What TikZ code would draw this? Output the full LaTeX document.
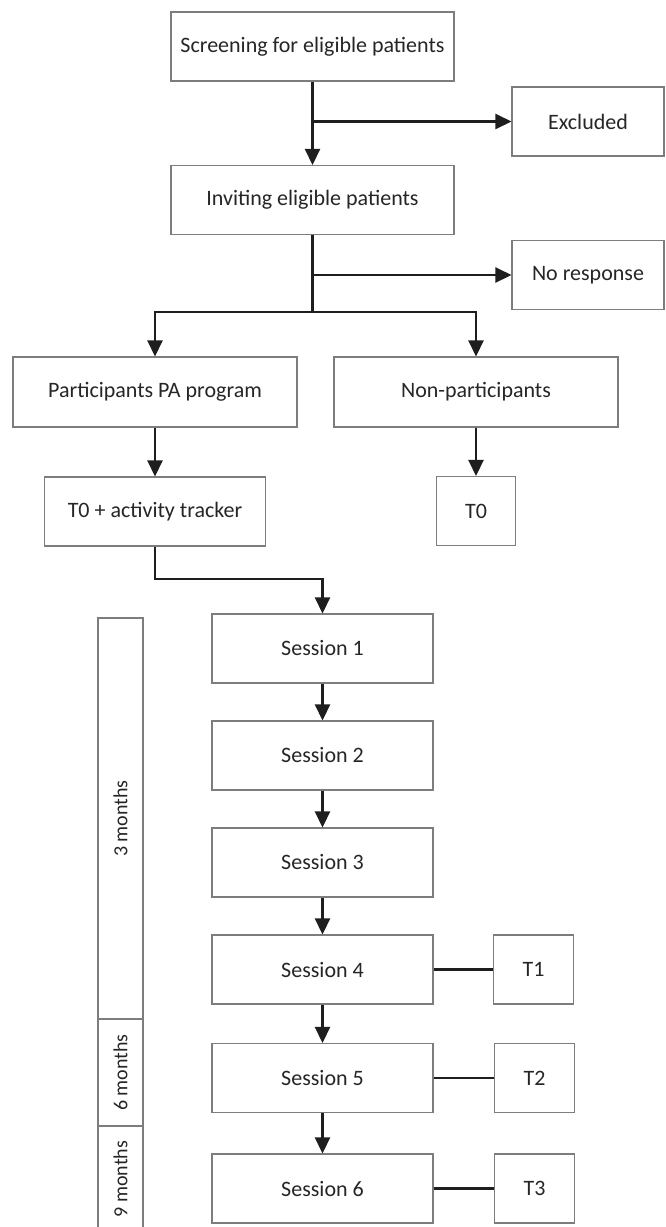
\documentclass[tikz,border=0pt]{standalone}
\usepackage{fontspec}
\setmainfont{Carlito}
\usetikzlibrary{arrows.meta}
\definecolor{boxgray}{RGB}{125,125,125}
\definecolor{linegray}{RGB}{30,30,30}

\begin{document}
\begin{tikzpicture}[x=1pt, y=-1pt]
    % Define styles
    \tikzstyle{box} = [draw=boxgray, line width=1.1pt, inner sep=0pt, minimum height=69pt, text=black!85, font=\fontsize{22}{26}\selectfont]
    \tikzstyle{monthbox} = [draw=boxgray, line width=1.1pt, inner sep=0pt, minimum height=45pt, rotate=90, text=black!85, font=\fontsize{20}{24}\selectfont]
    \tikzstyle{arrow} = [-{Triangle[length=16pt, width=15pt]}, line width=2.5pt, draw=linegray]
    \tikzstyle{link} = [line width=2.5pt, draw=linegray]

    % Page
    \path[use as bounding box, fill=white] (0,0) rectangle (665,1227);

    % Recruitment
    \node[box, minimum width=283pt] (screen) at (312.5,46.5) {Screening for eligible patients};
    \node[box, minimum width=152pt] (excl) at (588,121.5) {Excluded};
    \node[box, minimum width=283pt] (invite) at (312.5,200) {Inviting eligible patients};
    \node[box, minimum width=152pt] (noresp) at (588,275) {No response};

    % Groups
    \node[box, minimum width=284pt, minimum height=70pt] (part) at (155,392) {Participants PA program};
    \node[box, minimum width=284pt, minimum height=70pt] (nonpart) at (476,392) {Non-participants};
    \node[box, minimum width=221pt] (tzero) at (155,511.5) {T0 + activity tracker};
    \node[box, minimum width=79pt] (tzeronp) at (476,511) {T0};

    % Sessions
    \foreach \i/\y in {1/648.5, 2/755.5, 3/862.5, 4/969.5, 5/1078, 6/1188.5}
        \node[box, minimum width=221pt] (s\i) at (322.5,\y) {Session \i};

    % Measurements
    \node[box, minimum width=80pt] (tone) at (533.5,969.5) {T1};
    \node[box, minimum width=80pt] (ttwo) at (534.5,1078) {T2};
    \node[box, minimum width=80pt] (tthree) at (534.5,1188.5) {T3};

    % Time bar
    \node[monthbox, minimum width=401pt] (mthree) at (120.5,818.5) {3 months};
    \node[monthbox, minimum width=107pt] (msix) at (120.5,1072.5) {6 months};
    \node[monthbox, minimum width=106pt] (mnine) at (120.5,1179) {9 months};

    % Arrows
    \draw[arrow] (screen) -- (invite);
    \draw[arrow] (screen.south |- excl.west) -- (excl.west);
    \draw[arrow] (invite.south |- noresp.west) -- (noresp.west);
    \coordinate (split) at (312.5,312);
    \draw[link] (invite.south) -- (split);
    \draw[arrow] (split) -| (part.north);
    \draw[arrow] (split) -| (nonpart.north);
    \draw[arrow] (part) -- (tzero);
    \draw[arrow] (nonpart) -- (tzeronp);
    \coordinate (turn) at (155,579);
    \draw[arrow] (tzero.south) -- (turn) -| (s1.north);
    \foreach \a/\b in {1/2, 2/3, 3/4, 4/5, 5/6}
        \draw[arrow] (s\a) -- (s\b);

    % Lines to measurements
    \draw[link] (s4) -- (tone);
    \draw[link] (s5) -- (ttwo);
    \draw[link] (s6) -- (tthree);
\end{tikzpicture}
\end{document}
